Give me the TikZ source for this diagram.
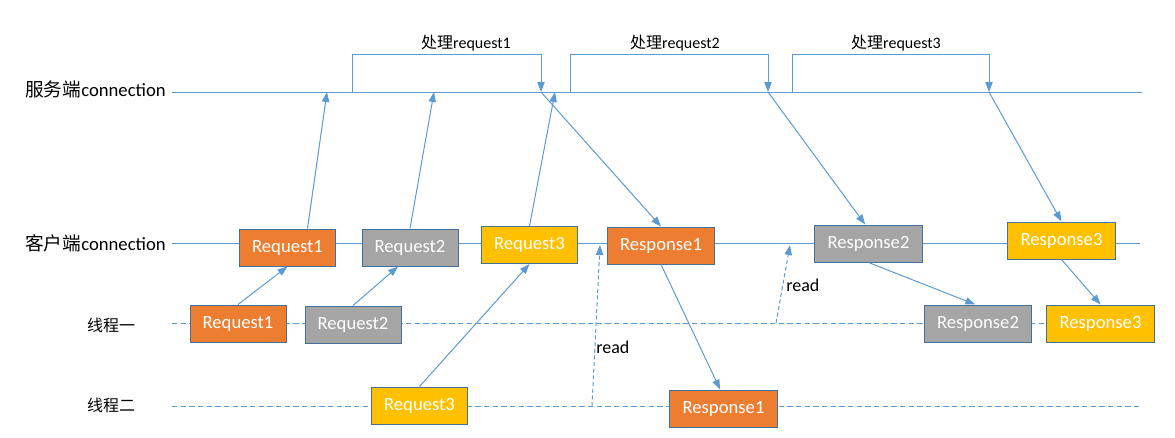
\documentclass[tikz,border=0pt]{standalone}
\usepackage{fontspec}
\setmainfont{Carlito}
\newfontfamily\cjk{Noto Sans CJK SC}
\usetikzlibrary{arrows.meta}
\definecolor{linkblue}{HTML}{5B9BD5}
\definecolor{edgeblue}{HTML}{41719C}
\definecolor{reqorange}{HTML}{ED7D31}
\definecolor{reqgray}{HTML}{A5A5A5}
\definecolor{reqyellow}{HTML}{FFC000}

\begin{document}
\begin{tikzpicture}[x=0.75pt,y=-0.75pt,
    msg/.style={draw=edgeblue,line width=0.75pt,text=white,font=\fontsize{14}{16}\selectfont,minimum height=27.75pt,inner sep=0pt},
    req/.style={msg,minimum width=72pt},
    resp/.style={msg,minimum width=80.5pt},
    flow/.style={linkblue,line width=0.75pt,-{Triangle[length=7.5pt,width=5.5pt]}},
    readflow/.style={flow,dash pattern=on 3pt off 2pt},
    timeline/.style={linkblue,line width=0.75pt},
    thread/.style={timeline,dash pattern=on 4pt off 2.5pt},
    lbl/.style={font=\fontsize{14}{16}\selectfont,inner sep=0pt}]
    \useasboundingbox (0,0) rectangle (1175,437);

    \node[lbl,anchor=east] (srv) at (166,89) {{\cjk 服务端}connection};
    \node[lbl,anchor=east] (cli) at (166,243) {{\cjk 客户端}connection};
    \node[lbl,font=\cjk\fontsize{12}{14}\selectfont] (th1) at (111,325) {线程一};
    \node[lbl,font=\cjk\fontsize{12}{14}\selectfont] (th2) at (111,405) {线程二};

    \coordinate (srvL) at (172,92); \coordinate (srvR) at (1142,92);
    \coordinate (cliL) at (172,243); \coordinate (cliR) at (1140,243);
    \coordinate (th1L) at (172,323); \coordinate (th1R) at (1047,323);
    \coordinate (th2L) at (172,406); \coordinate (th2R) at (1140,406);
    \draw[timeline] (srvL) -- (srvR);
    \draw[timeline] (cliL) -- (cliR);
    \draw[thread] (th1L) -- (th1R);
    \draw[thread] (th2L) -- (th2R);

    \node[req,fill=reqorange] (creqA) at (287.5,247.5) {Request1};
    \node[req,fill=reqgray] (creqB) at (410,247.5) {Request2};
    \node[req,fill=reqyellow] (creqC) at (529.5,245) {Request3};
    \node[resp,fill=reqorange] (cresA) at (661,245.5) {Response1};
    \node[resp,fill=reqgray] (cresB) at (868.5,243.5) {Response2};
    \node[resp,fill=reqyellow] (cresC) at (1061.5,240.5) {Response3};
    \node[req,fill=reqorange] (t1reqA) at (238,323.5) {Request1};
    \node[req,fill=reqgray] (t1reqB) at (353,324.5) {Request2};
    \node[resp,fill=reqgray] (t1resB) at (978,323.5) {Response2};
    \node[resp,fill=reqyellow] (t1resC) at (1100.5,323.5) {Response3};
    \node[req,fill=reqyellow] (t2reqC) at (419.5,405.5) {Request3};
    \node[resp,fill=reqorange] (t2resA) at (723.5,408.5) {Response1};

    \coordinate (s1) at (327,92); \coordinate (s2) at (434,92); \coordinate (s3) at (555,92);
    \foreach \i/\a/\b/\m in {1/352/541/466,2/570/768/675,3/792/989/896} {
        \coordinate (b\i) at (\a,92); \coordinate (p\i) at (\b,92);
        \draw[flow] (b\i) -- ++(0,-38) -| (p\i);
        \node[font=\fontsize{12}{14}\selectfont,inner sep=0pt] (h\i) at (\m,43) {{\cjk 处理}request\i};
    }

    \draw[flow] ([xshift=15pt]creqA.north) -- (s1);
    \draw[flow] (creqB.north) -- (s2);
    \draw[flow] (creqC.north) -- (s3);
    \draw[flow] (p1) -- (cresA.north);
    \draw[flow] (p2) -- ([xshift=-2.5pt]cresB.north);
    \draw[flow] (p3) -- (cresC.north);
    \draw[flow] (t1reqA.north) -- (creqA.south);
    \draw[flow] (t1reqB.north) -- ([xshift=-9pt]creqB.south);
    \draw[flow] (t2reqC.north) -- (creqC.south);
    \draw[flow] (cresA.south) -- ([xshift=-2.5pt]t2resA.north);
    \draw[flow] (cresB.south) -- ([xshift=-2pt]t1resB.north);
    \draw[flow] (cresC.south) -- (t1resC.north);

    \coordinate (r1) at (592,406); \coordinate (q1) at (600,245);
    \coordinate (r2) at (776,323); \coordinate (q2) at (790,245);
    \draw[readflow] (r1) -- (q1);
    \draw[readflow] (r2) -- (q2);
    \node[lbl,anchor=west,font=\fontsize{13.5}{16}\selectfont] (rd1) at (596,347) {read};
    \node[lbl,anchor=west,font=\fontsize{13.5}{16}\selectfont] (rd2) at (786,285) {read};
\end{tikzpicture}
\end{document}
